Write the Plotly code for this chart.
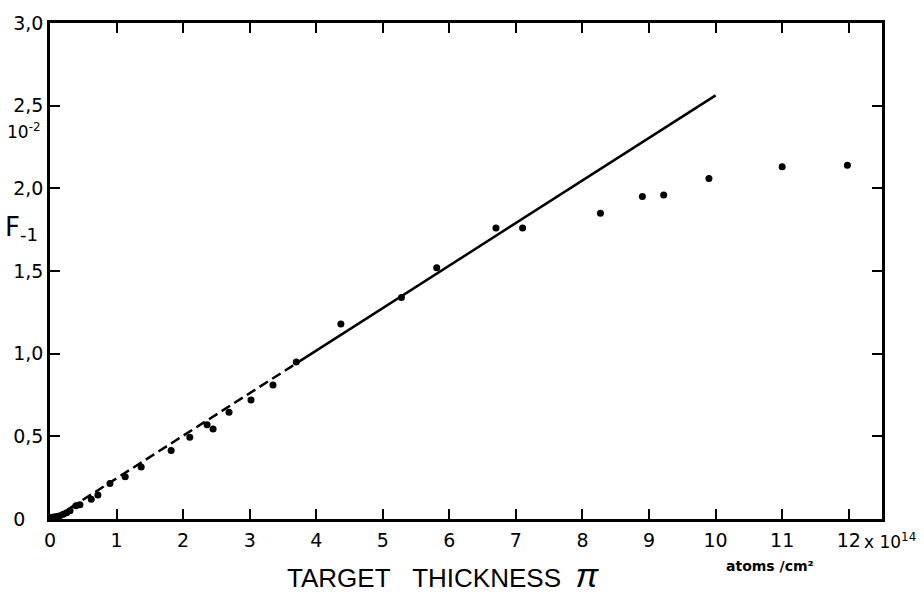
import plotly.graph_objects as go

# ---- data ----
thick_x = [0.03, 0.06, 0.10, 0.15, 0.20, 0.25, 0.30, 0.39, 0.45, 0.62, 0.72, 0.90,
           1.13, 1.37, 1.82, 2.10, 2.36, 2.45, 2.69, 3.02, 3.35, 3.70, 4.37, 5.28,
           5.81, 6.70, 7.10, 8.27, 8.90, 9.22, 9.90, 11.00, 11.98]
f_y = [0.010, 0.012, 0.015, 0.020, 0.028, 0.038, 0.050, 0.080, 0.086, 0.120, 0.145, 0.215,
       0.255, 0.315, 0.415, 0.495, 0.570, 0.545, 0.645, 0.720, 0.810, 0.950, 1.180, 1.340,
       1.520, 1.760, 1.760, 1.850, 1.950, 1.960, 2.060, 2.130, 2.140]

fit_dash_x = [0.3, 3.7]
fit_dash_y = [0.066, 0.941]
fit_solid_x = [3.7, 10.0]
fit_solid_y = [0.941, 2.562]

x_tickvals = list(range(0, 13))
x_ticktext = ["0", "1", "2", "3", "4", "5", "6", "7", "8", "9", "10", "11", "12"]
y_tickvals = [0, 0.5, 1.0, 1.5, 2.0, 2.5, 3.0]
y_ticktext = ["0\u2008\u2007", "0,5", "1,0", "1,5", "2,0", "2,5", "3,0"]

FONT = "DejaVu Sans"

fig = go.Figure()
fig.add_trace(go.Scatter(x=fit_dash_x, y=fit_dash_y, mode="lines",
                         line=dict(color="black", width=2.5, dash="10px,5px"),
                         showlegend=False, hoverinfo="skip"))
fig.add_trace(go.Scatter(x=fit_solid_x, y=fit_solid_y, mode="lines",
                         line=dict(color="black", width=2.5),
                         showlegend=False, hoverinfo="skip"))
fig.add_trace(go.Scatter(x=thick_x, y=f_y, mode="markers",
                         marker=dict(color="black", size=7),
                         showlegend=False))

fig.update_layout(
    width=924, height=594,
    margin=dict(l=50, r=42, t=19, b=75),
    paper_bgcolor="white", plot_bgcolor="white",
    font=dict(family=FONT, color="black", size=19),
    xaxis=dict(range=[0, 12.5], tickvals=x_tickvals, ticktext=x_ticktext,
               showgrid=False, zeroline=False, showline=True, linecolor="black",
               linewidth=2.5, mirror="ticks", ticks="inside", ticklen=10,
               tickwidth=2, tickcolor="black", ticklabelstandoff=2,
               tickfont=dict(family=FONT, size=19)),
    yaxis=dict(range=[0, 3.0], tickvals=y_tickvals, ticktext=y_ticktext,
               showgrid=False, zeroline=False, showline=True, linecolor="black",
               linewidth=2.5, mirror="ticks", ticks="inside", ticklen=10,
               tickwidth=2, tickcolor="black",
               tickfont=dict(family=FONT, size=19)),
)

annotations = [
    dict(text="x 10<sup>14</sup>", x=12, xref="x", xanchor="left", xshift=13,
         y=0, yref="paper", yanchor="middle", yshift=-22, showarrow=False,
         font=dict(family=FONT, size=17)),
    dict(text="<b>atoms /cm²</b>", x=(770 - 50) / 832, xref="paper", xanchor="center",
         y=0, yref="paper", yanchor="middle", yshift=-47, showarrow=False,
         font=dict(family=FONT, size=14)),
    dict(text="TARGET\u00a0\u00a0\u00a0THICKNESS\u00a0\u00a0<span style='font-size:34px'><i>π</i></span>",
         x=(443 - 50) / 832, xref="paper", xanchor="center",
         y=0, yref="paper", yanchor="middle", yshift=-56, showarrow=False,
         font=dict(family="Liberation Sans", size=26)),
    dict(text="10<sup>-2</sup>", x=(24 - 50) / 832, xref="paper", xanchor="center",
         y=(519 - 128) / 500, yref="paper", yanchor="middle", showarrow=False,
         font=dict(family=FONT, size=17)),
    dict(text="F<sub>-1</sub>", x=(21 - 50) / 832, xref="paper", xanchor="center",
         y=(519 - 226) / 500, yref="paper", yanchor="middle", showarrow=False,
         font=dict(family=FONT, size=26)),
]
fig.update_layout(annotations=annotations)

fig.write_html("out.html")
